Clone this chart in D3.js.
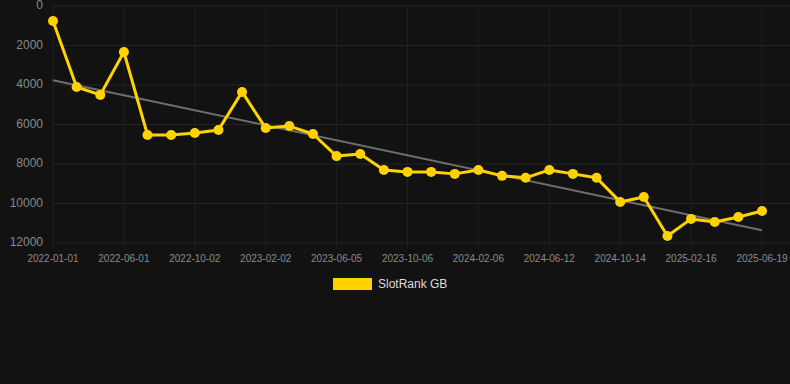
<!DOCTYPE html>
<html>
<head>
<meta charset="utf-8">
<script src="https://cdn.jsdelivr.net/npm/d3@7"></script>
<style>
html,body{margin:0;padding:0;background:#121212;}
svg{display:block;font-family:Arial,"Liberation Sans",sans-serif;}
</style>
</head>
<body>
<svg id="chart" width="790" height="384"></svg>
<script>
const dates = [
  "2022-01-01","2022-02-20","2022-04-11","2022-06-01","2022-07-12","2022-08-22",
  "2022-10-02","2022-11-12","2022-12-23","2023-02-02","2023-03-16","2023-04-25",
  "2023-06-05","2023-07-16","2023-08-26","2023-10-06","2023-11-16","2023-12-27",
  "2024-02-06","2024-03-19","2024-05-01","2024-06-12","2024-07-23","2024-09-02",
  "2024-10-14","2024-11-26","2025-01-05","2025-02-16","2025-03-31","2025-05-09",
  "2025-06-19"
];
const rankValues = [
  760, 4100, 4500, 2330, 6530, 6530,
  6430, 6280, 4350, 6180, 6080, 6480,
  7600, 7490, 8300, 8400, 8400, 8500,
  8300, 8600, 8700, 8300, 8500, 8700,
  9920, 9670, 11650, 10780, 10940, 10680,
  10380
];
const yTicks = [0, 2000, 4000, 6000, 8000, 10000, 12000];
const seriesName = "SlotRank GB";

(function () {
const svg = d3.select("#chart");
const plotLeft = 53, plotRight = 762, gridRight = 790, plotTop = 6, plotBottom = 243;

const x = d3.scalePoint().domain(dates).range([plotLeft, plotRight]);
const y = d3.scaleLinear().domain([0, 12000]).range([plotTop, plotBottom]);

// horizontal grid
svg.append("g").selectAll("line").data(yTicks).join("line")
  .attr("x1", plotLeft).attr("x2", gridRight)
  .attr("y1", d => y(d)).attr("y2", d => y(d))
  .attr("stroke", "#242424").attr("stroke-width", 1);

// vertical grid at labelled categories
const labelled = dates.filter((d, i) => i % 3 === 0);
svg.append("g").selectAll("line").data(labelled).join("line")
  .attr("x1", d => x(d)).attr("x2", d => x(d))
  .attr("y1", plotTop).attr("y2", plotBottom)
  .attr("stroke", "#1f1f1f").attr("stroke-width", 1);
svg.append("g").selectAll("line").data(labelled).join("line")
  .attr("x1", d => x(d)).attr("x2", d => x(d))
  .attr("y1", plotBottom).attr("y2", plotBottom + 6)
  .attr("stroke", "#1f1f1f").attr("stroke-width", 1);

// y labels
svg.append("g").selectAll("text").data(yTicks).join("text")
  .attr("x", 43).attr("y", d => y(d))
  .attr("text-anchor", "end").attr("dominant-baseline", "middle")
  .attr("fill", "#8a8a8a").attr("font-size", 12)
  .text(d => d);

// x labels
svg.append("g").selectAll("text").data(labelled).join("text")
  .attr("x", d => x(d)).attr("y", 259)
  .attr("text-anchor", "middle").attr("dominant-baseline", "middle")
  .attr("fill", "#8a8a8a").attr("font-size", 10)
  .text(d => d);

// trend line (least squares on index)
const n = rankValues.length;
const idx = d3.range(n);
const mx = d3.mean(idx), my = d3.mean(rankValues);
const slope = d3.sum(idx, i => (i - mx) * (rankValues[i] - my)) / d3.sum(idx, i => (i - mx) ** 2);
const icpt = my - slope * mx;
svg.append("line")
  .attr("x1", x(dates[0])).attr("y1", y(icpt))
  .attr("x2", x(dates[n - 1])).attr("y2", y(icpt + slope * (n - 1)))
  .attr("stroke", "#6e6e6e").attr("stroke-width", 2);

// series line
const line = d3.line().x((d, i) => x(dates[i])).y(d => y(d));
svg.append("path").datum(rankValues)
  .attr("d", line).attr("fill", "none")
  .attr("stroke", "#FFD200").attr("stroke-width", 3)
  .attr("stroke-linejoin", "round");

svg.append("g").selectAll("circle").data(rankValues).join("circle")
  .attr("cx", (d, i) => x(dates[i])).attr("cy", d => y(d))
  .attr("r", 5).attr("fill", "#FFD200");

// legend
svg.append("rect").attr("x", 333).attr("y", 278).attr("width", 39).attr("height", 12)
  .attr("fill", "#FFD200");
svg.append("text").attr("x", 378).attr("y", 285)
  .attr("dominant-baseline", "middle")
  .attr("fill", "#dddddd").attr("font-size", 12)
  .text(seriesName);
})();
</script>
</body>
</html>
